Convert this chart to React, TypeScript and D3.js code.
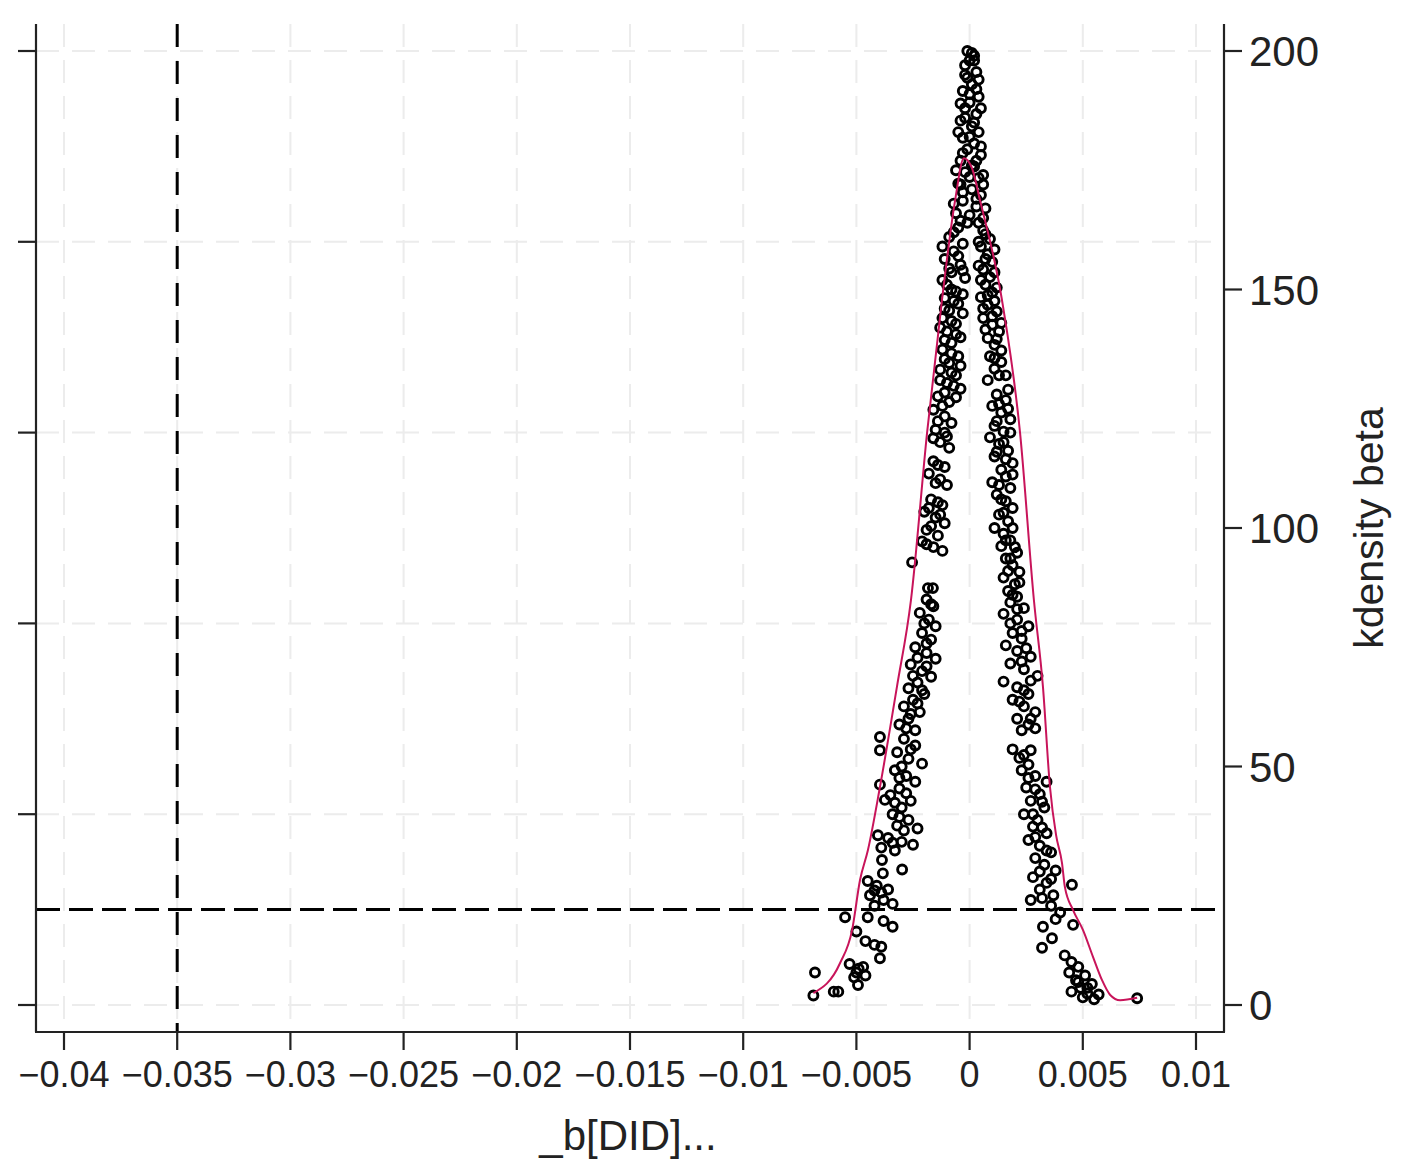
import React, { useEffect, useRef } from 'react'
import * as d3 from 'd3'

// x axis: coefficient of the placebo DID
const xTicks = [-0.04, -0.035, -0.03, -0.025, -0.02, -0.015, -0.01, -0.005, 0, 0.005, 0.01]
const xTickLabels = ['−0.04', '−0.035', '−0.03', '−0.025', '−0.02', '−0.015', '−0.01', '−0.005', '0', '0.005', '0.01']
// left axis (p value) has ticks only, right axis is the kernel density
const pTicks = [0, 0.2, 0.4, 0.6, 0.8, 1]
const densityTicks = [0, 50, 100, 150, 200]

const trueBeta = -0.035
const pCutoff = 0.1

// [beta, p] pairs
const peakPoints: [number, number][] = [
  [-0.0001, 1.0], [0.0001, 0.998], [0.0002, 0.99], [0.0, 0.99], [-0.0002, 0.985], [0.0003, 0.978],
  [-0.0001, 0.972], [0.0001, 0.965], [-0.0003, 0.958], [0.0003, 0.96], [0.0004, 0.952], [0.0, 0.946],
  [-0.0002, 0.94], [0.0003, 0.934], [-0.0002, 0.93], [-0.0004, 0.927], [0.0001, 0.921], [0.0004, 0.915],
  [-0.0003, 0.909], [0.0002, 0.903], [-0.0001, 0.897], [0.0005, 0.891], [-0.0004, 0.885], [0.0001, 0.88],
  [0.0002, 0.879], [-0.0002, 0.873], [0.0004, 0.867], [-0.0005, 0.861], [-0.0004, 0.86], [0.0006, 0.86],
  [0.0001, 0.855], [0.0005, 0.849], [-0.0003, 0.843], [0.0003, 0.837], [-0.0006, 0.83], [0.0006, 0.825],
  [-0.0001, 0.82],
  [0.0002, 0.995], [-0.0002, 0.975], [0.0004, 0.97], [0.0, 0.955], [-0.0004, 0.945], [0.0005, 0.94],
  [0.0002, 0.925], [-0.0005, 0.915], [0.0, 0.91], [0.0005, 0.9], [-0.0003, 0.893], [0.0003, 0.885],
  [-0.0006, 0.875], [0.0, 0.868], [0.0006, 0.87], [-0.0003, 0.852], [0.0003, 0.845], [-0.0007, 0.84],
  [0.0007, 0.835], [0.0, 0.828], [-0.0004, 0.822], [0.0004, 0.82],
]

const leftBranch: [number, number][] = [
  [-0.0005, 0.815], [-0.0009, 0.805], [-0.0003, 0.798], [-0.0007, 0.79], [-0.0011, 0.782], [-0.0004, 0.776],
  [-0.0008, 0.768], [-0.0002, 0.762], [-0.001, 0.755], [-0.0006, 0.748], [-0.0011, 0.741],
  [-0.0005, 0.735], [-0.0009, 0.728], [-0.0012, 0.72], [-0.0006, 0.714], [-0.001, 0.706], [-0.0004, 0.7],
  [-0.0008, 0.694], [-0.0012, 0.687], [-0.0005, 0.68], [-0.0009, 0.673], [-0.0013, 0.666], [-0.0006, 0.66],
  [-0.001, 0.652], [-0.0004, 0.646], [-0.0014, 0.638], [-0.0009, 0.632], [-0.0016, 0.624], [-0.0011, 0.617],
  [-0.0008, 0.61], [-0.0015, 0.603], [-0.001, 0.596], [-0.0013, 0.59], [-0.0009, 0.584],
  [-0.0016, 0.57], [-0.0011, 0.564], [-0.0018, 0.557], [-0.0013, 0.551], [-0.001, 0.545],
  [-0.0017, 0.53], [-0.0012, 0.524], [-0.002, 0.517], [-0.0015, 0.511], [-0.0011, 0.505], [-0.0019, 0.498],
  [-0.0014, 0.492], [-0.0021, 0.486], [-0.0016, 0.48], [-0.0012, 0.476],
  [-0.00254, 0.464], [-0.00184, 0.437], [-0.00162, 0.437],
  [-0.0019, 0.425], [-0.0016, 0.418], [-0.0022, 0.411], [-0.0018, 0.404], [-0.0015, 0.397], [-0.0021, 0.39],
  [-0.0017, 0.383], [-0.0024, 0.375], [-0.0019, 0.369], [-0.0015, 0.363], [-0.0026, 0.357], [-0.0021, 0.35],
  [-0.0017, 0.344], [-0.0023, 0.338], [-0.0027, 0.332], [-0.002, 0.326], [-0.0025, 0.32], [-0.0029, 0.313],
  [-0.0022, 0.307], [-0.0027, 0.3], [-0.0031, 0.294], [-0.0024, 0.288],
  [-0.00396, 0.281], [-0.00396, 0.267], [-0.0029, 0.279], [-0.0024, 0.272], [-0.0032, 0.265], [-0.0027, 0.258],
  [-0.0021, 0.253], [-0.0033, 0.246], [-0.0028, 0.24], [-0.0024, 0.234], [-0.00396, 0.231], [-0.0031, 0.227],
  [-0.0035, 0.22], [-0.00374, 0.215], [-0.0026, 0.214], [-0.003, 0.207], [-0.0034, 0.2], [-0.0027, 0.194],
  [-0.0032, 0.188], [-0.0023, 0.185], [-0.00405, 0.178], [-0.0036, 0.175], [-0.003, 0.171], [-0.0025, 0.168],
  [-0.0039, 0.165], [-0.0033, 0.162], [-0.00387, 0.152], [-0.00383, 0.138], [-0.00298, 0.142],
  [-0.0045, 0.13], [-0.0041, 0.125], [-0.0036, 0.121], [-0.0044, 0.115], [-0.0038, 0.11], [-0.0034, 0.106],
  [-0.0042, 0.104], [-0.0055, 0.092], [-0.0045, 0.092], [-0.005, 0.077], [-0.0038, 0.088], [-0.0034, 0.082],
  [-0.0046, 0.067], [-0.0042, 0.063], [-0.0039, 0.061], [-0.00396, 0.049], [-0.0053, 0.043], [-0.0049, 0.038],
  [-0.0046, 0.031], [-0.0051, 0.029], [-0.00493, 0.021], [-0.00683, 0.034], [-0.0069, 0.01], [-0.006, 0.014],
  [-0.0058, 0.014],
  [-0.0007, 0.81], [-0.0012, 0.795], [-0.0005, 0.785], [-0.0009, 0.772], [-0.0003, 0.77], [-0.0012, 0.76],
  [-0.0008, 0.75], [-0.0003, 0.745], [-0.0007, 0.738], [-0.0011, 0.73], [-0.0003, 0.725], [-0.0008, 0.717],
  [-0.0013, 0.71], [-0.0006, 0.703], [-0.0011, 0.697], [-0.0008, 0.683], [-0.0011, 0.677], [-0.0004, 0.67],
  [-0.0008, 0.663], [-0.0013, 0.655], [-0.0007, 0.649], [-0.0011, 0.642], [-0.0006, 0.637], [-0.0012, 0.628],
  [-0.0014, 0.612], [-0.0011, 0.6], [-0.0016, 0.594], [-0.0014, 0.566], [-0.0015, 0.547], [-0.0014, 0.527],
  [-0.0018, 0.521], [-0.0013, 0.514], [-0.0017, 0.502], [-0.0019, 0.483], [-0.0017, 0.42], [-0.002, 0.4],
  [-0.0019, 0.379], [-0.0023, 0.364], [-0.0019, 0.355], [-0.0025, 0.345], [-0.0021, 0.33], [-0.0023, 0.316],
  [-0.0026, 0.305], [-0.0028, 0.29], [-0.0026, 0.268], [-0.003, 0.25], [-0.0031, 0.238], [-0.0028, 0.222],
  [-0.0033, 0.212], [-0.0031, 0.197], [-0.0029, 0.183], [-0.0034, 0.17], [-0.0042, 0.12], [-0.0039, 0.118],
  [-0.0047, 0.04], [-0.005, 0.034],
]

const rightBranch: [number, number][] = [
  [0.0006, 0.812], [0.0009, 0.803], [0.0005, 0.795], [0.0008, 0.787], [0.001, 0.779], [0.0006, 0.771],
  [0.0009, 0.763], [0.0007, 0.755], [0.001, 0.747], [0.0005, 0.742],
  [0.0008, 0.734], [0.0012, 0.727], [0.0006, 0.72], [0.001, 0.713], [0.0013, 0.706], [0.0008, 0.699],
  [0.0011, 0.692], [0.0009, 0.68], [0.0014, 0.674], [0.0011, 0.667], [0.0016, 0.66], [0.0008, 0.655],
  [0.0012, 0.64], [0.0016, 0.634], [0.001, 0.628], [0.0014, 0.621], [0.0018, 0.614], [0.0011, 0.607],
  [0.0015, 0.601], [0.0009, 0.595], [0.0013, 0.588], [0.0017, 0.581], [0.0011, 0.575], [0.0019, 0.568],
  [0.0014, 0.561], [0.0016, 0.554], [0.001, 0.548], [0.0018, 0.542],
  [0.0012, 0.535], [0.0016, 0.528], [0.0019, 0.521], [0.0013, 0.514], [0.0017, 0.507], [0.0011, 0.5],
  [0.0015, 0.494], [0.0018, 0.487], [0.0014, 0.481], [0.0021, 0.474], [0.0016, 0.468], [0.0019, 0.461],
  [0.0022, 0.454], [0.0015, 0.448], [0.002, 0.441], [0.0017, 0.434], [0.0021, 0.428],
  [0.0018, 0.422], [0.0024, 0.416], [0.0015, 0.41], [0.0021, 0.404], [0.0026, 0.397], [0.0019, 0.39],
  [0.0023, 0.384], [0.0016, 0.377], [0.0021, 0.371], [0.0027, 0.365], [0.0018, 0.358], [0.0024, 0.352],
  [0.003, 0.345], [0.0015, 0.339], [0.0021, 0.333], [0.0026, 0.326], [0.0019, 0.32], [0.0024, 0.313],
  [0.0029, 0.307], [0.0021, 0.3], [0.0026, 0.294], [0.0023, 0.288],
  [0.0019, 0.268], [0.0027, 0.267], [0.0022, 0.259], [0.0026, 0.252],
  [0.0023, 0.246], [0.0029, 0.24], [0.0034, 0.234], [0.0025, 0.228], [0.0031, 0.221], [0.0027, 0.214],
  [0.0033, 0.207], [0.0024, 0.2], [0.003, 0.194], [0.0028, 0.187], [0.0034, 0.18], [0.0026, 0.173],
  [0.0031, 0.167], [0.0036, 0.16], [0.0029, 0.154], [0.0033, 0.147], [0.0038, 0.141], [0.0028, 0.134],
  [0.0034, 0.128], [0.00452, 0.126], [0.0031, 0.121], [0.0037, 0.115], [0.0027, 0.11],
  [0.0036, 0.104], [0.004, 0.097], [0.0038, 0.09], [0.00457, 0.084], [0.00324, 0.082], [0.00364, 0.07],
  [0.0032, 0.06], [0.0042, 0.052], [0.0045, 0.045], [0.0048, 0.04], [0.0044, 0.034], [0.0051, 0.031],
  [0.0047, 0.026], [0.0054, 0.022], [0.0049, 0.018], [0.0045, 0.014], [0.0052, 0.012], [0.0057, 0.011],
  [0.005, 0.008], [0.0055, 0.006], [0.0074, 0.007],
  [0.0007, 0.808], [0.0004, 0.8], [0.0011, 0.792], [0.0007, 0.782], [0.0004, 0.775], [0.0011, 0.768],
  [0.0005, 0.76], [0.0012, 0.752], [0.0008, 0.744], [0.0011, 0.738], [0.0006, 0.73], [0.001, 0.722],
  [0.0014, 0.715], [0.0007, 0.708], [0.0012, 0.698], [0.0014, 0.686], [0.0011, 0.678], [0.0013, 0.66],
  [0.0017, 0.645], [0.0013, 0.63], [0.0017, 0.625], [0.0012, 0.612], [0.0018, 0.6], [0.0015, 0.59],
  [0.0012, 0.58], [0.0016, 0.572], [0.0019, 0.556], [0.0013, 0.545], [0.0014, 0.53], [0.0015, 0.516],
  [0.0019, 0.5], [0.0016, 0.487], [0.002, 0.48], [0.0018, 0.468], [0.0017, 0.455], [0.0022, 0.443],
  [0.0019, 0.43], [0.0021, 0.415], [0.0018, 0.4], [0.0023, 0.392], [0.0025, 0.374], [0.0023, 0.36],
  [0.0027, 0.34], [0.0024, 0.33], [0.0022, 0.318], [0.0027, 0.3], [0.0029, 0.29], [0.0024, 0.262],
  [0.0026, 0.238], [0.0029, 0.226], [0.0032, 0.213], [0.0028, 0.2], [0.0032, 0.186], [0.0029, 0.176],
  [0.0034, 0.162], [0.0031, 0.14], [0.0036, 0.132], [0.0032, 0.112], [0.0048, 0.024], [0.0052, 0.018],
]

// kernel density of beta
const kdensityBeta = [
  -0.0069, -0.00572, -0.00519, -0.00484, -0.00449, -0.00396, -0.00321, -0.00259, -0.00188, -0.00122,
  -0.00064, -0.00025, 0.0001, 0.00046, 0.00143, 0.00223, 0.00284, 0.00324, 0.00355, 0.00382, 0.00408,
  0.00421, 0.00457, 0.00501, 0.00545, 0.00585, 0.00621, 0.00665, 0.0074,
]
const kdensityValue = [
  2.5, 8.8, 15.7, 26.2, 32.5, 45.7, 66.7, 84.9, 119.9, 147.8,
  168.7, 177.5, 175.5, 168.7, 147.8, 119.9, 84.9, 66.7, 45.7, 35.6, 29.8,
  24.7, 19.9, 15.7, 10.1, 5.2, 2.1, 1.0, 1.5,
]

export default function App() {
  const ref = useRef<SVGSVGElement | null>(null)

  const width = 1404
  const height = 1168
  const left = 36, right = 1224, top = 24, bottom = 1032
  const font = '"Liberation Sans", Arial, sans-serif'

  function drawChart() {
    const svg = d3.select(ref.current)
    svg.selectAll('*').remove()

    const x = d3.scaleLinear().domain([-0.04, 0.01]).range([64, 1196])
    const yP = d3.scaleLinear().domain([0, 1]).range([1005, 51])
    const yD = d3.scaleLinear().domain([0, 200]).range([1005, 51])

    svg.append('rect').attr('width', width).attr('height', height).attr('fill', '#fff')

    // grid
    const grid = svg.append('g')
      .attr('stroke', '#ececec')
      .attr('stroke-width', 2)
      .attr('stroke-dasharray', '23,13')
    grid.selectAll('.gx').data(xTicks).enter().append('line')
      .attr('x1', d => x(d)).attr('x2', d => x(d))
      .attr('y1', top).attr('y2', bottom)
    grid.selectAll('.gy').data(pTicks).enter().append('line')
      .attr('x1', left).attr('x2', right)
      .attr('y1', d => yP(d)).attr('y2', d => yP(d))

    // reference lines
    svg.append('line')
      .attr('x1', x(trueBeta)).attr('x2', x(trueBeta))
      .attr('y1', top).attr('y2', bottom)
      .attr('stroke', '#000').attr('stroke-width', 3)
      .attr('stroke-dasharray', '23,14')
    svg.append('line')
      .attr('x1', left).attr('x2', right)
      .attr('y1', yP(pCutoff)).attr('y2', yP(pCutoff))
      .attr('stroke', '#000').attr('stroke-width', 3)
      .attr('stroke-dasharray', '24,9')

    // scatter of p values
    const pts = [...peakPoints, ...leftBranch, ...rightBranch]
    svg.append('g').selectAll('circle').data(pts).enter().append('circle')
      .attr('cx', d => x(d[0]))
      .attr('cy', d => yP(d[1]))
      .attr('r', 4.5)
      .attr('fill', 'none')
      .attr('stroke', '#000')
      .attr('stroke-width', 2.9)

    // kernel density
    const line = d3.line<number>()
      .x((d, i) => x(kdensityBeta[i]))
      .y(d => yD(d))
      .curve(d3.curveMonotoneX)
    svg.append('path')
      .attr('d', line(kdensityValue))
      .attr('fill', 'none')
      .attr('stroke', '#c8145a')
      .attr('stroke-width', 2)

    // axes
    const axis = svg.append('g').attr('stroke', '#222').attr('stroke-width', 2.2)
    axis.append('line').attr('x1', left).attr('x2', left).attr('y1', top).attr('y2', bottom)
    axis.append('line').attr('x1', right).attr('x2', right).attr('y1', top).attr('y2', bottom)
    axis.append('line').attr('x1', left - 1).attr('x2', right + 1).attr('y1', bottom).attr('y2', bottom)
    axis.selectAll('.tl').data(pTicks).enter().append('line')
      .attr('x1', 18).attr('x2', left)
      .attr('y1', d => yP(d)).attr('y2', d => yP(d))
    axis.selectAll('.tr').data(densityTicks).enter().append('line')
      .attr('x1', right).attr('x2', 1242)
      .attr('y1', d => yD(d)).attr('y2', d => yD(d))
    axis.selectAll('.tx').data(xTicks).enter().append('line')
      .attr('x1', d => x(d)).attr('x2', d => x(d))
      .attr('y1', bottom).attr('y2', 1050)

    svg.append('g').selectAll('text').data(xTicks).enter().append('text')
      .attr('x', d => x(d))
      .attr('y', 1087)
      .attr('text-anchor', 'middle')
      .attr('font-family', font)
      .attr('font-size', 36)
      .attr('fill', '#222')
      .text((d, i) => xTickLabels[i])

    svg.append('g').selectAll('text').data(densityTicks).enter().append('text')
      .attr('x', 1249)
      .attr('y', d => yD(d) + 15)
      .attr('font-family', font)
      .attr('font-size', 42)
      .attr('fill', '#222')
      .text(d => String(d))

    svg.append('text')
      .attr('transform', 'translate(1383,528) rotate(-90)')
      .attr('text-anchor', 'middle')
      .attr('font-family', font)
      .attr('font-size', 41)
      .attr('fill', '#222')
      .text('kdensity beta')

    svg.append('text')
      .attr('x', 628)
      .attr('y', 1150)
      .attr('text-anchor', 'middle')
      .attr('font-family', font)
      .attr('font-size', 42)
      .attr('fill', '#222')
      .text('_b[DID]...')
  }

  useEffect(() => {
    drawChart()
  }, [])

  return (
    <div>
      <svg
        ref={ref}
        width={width}
        height={height}
        style={{ position: 'absolute', left: 0, top: 0, display: 'block' }}
      />
    </div>
  )
}
